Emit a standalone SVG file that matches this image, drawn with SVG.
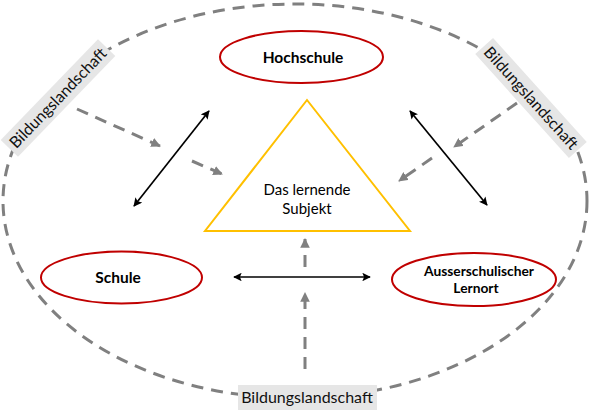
<svg xmlns="http://www.w3.org/2000/svg" width="591" height="410" viewBox="0 0 591 410">
<defs>
<style>
.txt{font-family:"Lato","Noto Sans","Liberation Sans",sans-serif;fill:#000}
.b{font-weight:bold;font-size:15.5px}
.bs{font-weight:bold;font-size:13.8px}
.lbl{font-size:16px;fill:#111}
.node{fill:#fff;stroke:#c00000;stroke-width:2}
.gd{stroke:#808080;stroke-width:3;stroke-dasharray:12 8;fill:none}
.bk{stroke:#000;stroke-width:1.7;fill:none}
.box{fill:#e6e6e6}
</style>
<marker id="ga" viewBox="0 0 10 10" refX="9" refY="5" markerWidth="3.2" markerHeight="3.2" orient="auto" markerUnits="strokeWidth">
<path d="M0,0 L10,5 L0,10 z" fill="#808080"/>
</marker>
<marker id="ba" viewBox="0 0 10 10" refX="9" refY="5" markerWidth="5" markerHeight="5" orient="auto-start-reverse" markerUnits="strokeWidth">
<path d="M0,0 L10,5 L0,10 L2,5 z" fill="#000"/>
</marker>
</defs>
<rect width="591" height="410" fill="#fff"/>
<g id="landscape">
<ellipse cx="295" cy="201" rx="292" ry="197" class="gd" stroke-width="2.5"/>
</g>
<g id="connectors">
<line x1="77" y1="109" x2="160" y2="146" class="gd" stroke-dasharray="11 8" marker-end="url(#ga)"/>
<line x1="192" y1="161" x2="222" y2="174" class="gd" stroke-dasharray="11 8" marker-end="url(#ga)"/>
<line x1="517" y1="103" x2="454" y2="147" class="gd" stroke-dasharray="11 8" marker-end="url(#ga)"/>
<line x1="432" y1="158" x2="399" y2="181" class="gd" stroke-dasharray="11 8" marker-end="url(#ga)"/>
<line x1="305" y1="369" x2="305" y2="293" class="gd" stroke-dasharray="12 8" marker-end="url(#ga)"/>
<line x1="305" y1="267" x2="305" y2="239" class="gd" stroke-dasharray="13 8" marker-end="url(#ga)"/>
<line x1="134" y1="206" x2="209" y2="111" class="bk" marker-start="url(#ba)" marker-end="url(#ba)"/>
<line x1="410" y1="111" x2="487" y2="205" class="bk" marker-start="url(#ba)" marker-end="url(#ba)"/>
<line x1="234" y1="277" x2="370" y2="277" class="bk" marker-start="url(#ba)" marker-end="url(#ba)"/>
</g>
<g id="label-bottom">
<rect x="238" y="385" width="139" height="25" class="box"/>
<text x="307" y="403" text-anchor="middle" class="txt lbl">Bildungslandschaft</text>
</g>
<g id="label-left" transform="translate(58,98) rotate(-46)">
<rect x="-70" y="-12" width="140" height="24" class="box"/>
<text x="0" y="5.5" text-anchor="middle" class="txt lbl">Bildungslandschaft</text>
</g>
<g id="label-right" transform="translate(531,98) rotate(48)">
<rect x="-70" y="-12" width="140" height="24" class="box"/>
<text x="0" y="5.5" text-anchor="middle" class="txt lbl">Bildungslandschaft</text>
</g>
<g id="subject">
<polygon points="307,100 205,231 410,231" fill="#fff" stroke="#ffc000" stroke-width="2"/>
<text x="307" y="195" text-anchor="middle" class="txt" font-size="15">Das lernende</text>
<text x="307" y="214" text-anchor="middle" class="txt" font-size="15">Subjekt</text>
</g>
<g id="hochschule">
<ellipse cx="301.5" cy="57" rx="81.5" ry="26" class="node"/>
<text x="303" y="63" text-anchor="middle" class="txt b">Hochschule</text>
</g>
<g id="schule">
<ellipse cx="121.5" cy="277.5" rx="80.5" ry="26" class="node"/>
<text x="118" y="283" text-anchor="middle" class="txt b">Schule</text>
</g>
<g id="ausserschulisch">
<ellipse cx="474" cy="279.5" rx="82" ry="26.5" class="node"/>
<text x="479" y="276" text-anchor="middle" class="txt bs">Ausserschulischer</text>
<text x="476" y="293" text-anchor="middle" class="txt bs">Lernort</text>
</g>
</svg>
